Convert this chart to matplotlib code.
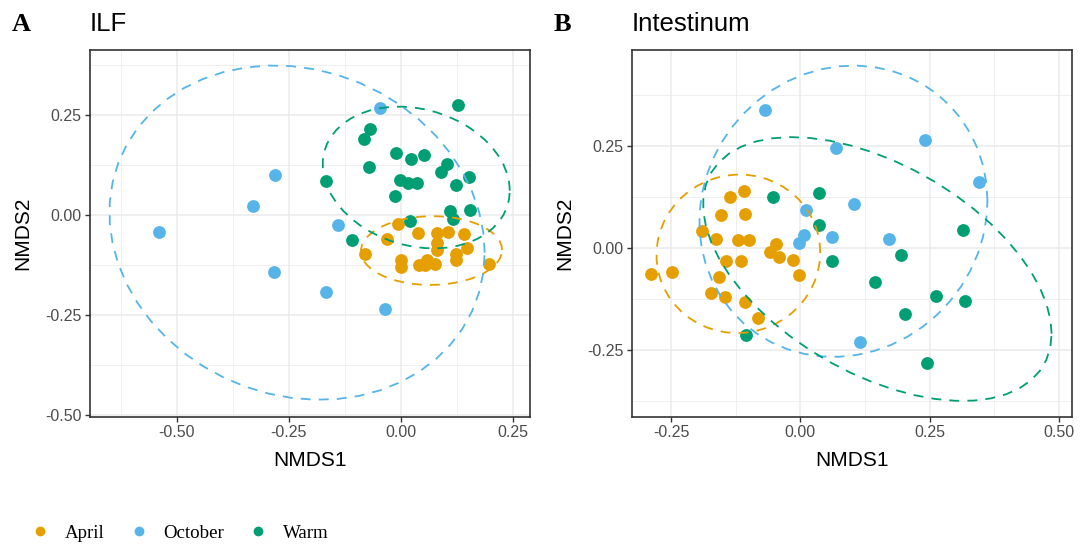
import numpy as np
import matplotlib
matplotlib.use("Agg")
import matplotlib.pyplot as plt
from matplotlib.ticker import MultipleLocator, FormatStrFormatter
from matplotlib.lines import Line2D

# NMDS scores per tissue and season
ilf_april_x = [-0.006, 0.037, 0.080, 0.104, 0.140, -0.031, 0.080, 0.080, 0.146, 0.122,
               -0.081, -0.001, -0.001, 0.122, 0.059, 0.041, 0.053, 0.076, 0.196]
ilf_april_y = [-0.023, -0.044, -0.044, -0.043, -0.048, -0.059, -0.069, -0.087, -0.082, -0.096,
               -0.097, -0.112, -0.129, -0.112, -0.111, -0.125, -0.125, -0.123, -0.121]
ilf_october_x = [-0.047, -0.280, -0.329, -0.540, -0.140, -0.282, -0.167, -0.035]
ilf_october_y = [0.266, 0.100, 0.022, -0.042, -0.024, -0.143, -0.191, -0.235]
ilf_warm_x = [0.128, -0.069, -0.082, -0.011, 0.022, 0.051, -0.071, 0.103, 0.090, 0.152,
              -0.166, -0.003, 0.016, 0.035, 0.123, -0.014, 0.110, 0.154, 0.117, 0.019, -0.109]
ilf_warm_y = [0.275, 0.216, 0.189, 0.154, 0.141, 0.151, 0.121, 0.128, 0.107, 0.096,
              0.084, 0.087, 0.079, 0.081, 0.075, 0.047, 0.010, 0.012, -0.009, -0.016, -0.063]

int_april_x = [-0.288, -0.249, -0.109, -0.136, -0.154, -0.106, -0.190, -0.162, -0.121, -0.099, -0.046,
               -0.059, -0.041, -0.014, -0.144, -0.115, -0.002, -0.157, -0.173, -0.146, -0.107, -0.082]
int_april_y = [-0.063, -0.059, 0.140, 0.125, 0.082, 0.084, 0.041, 0.021, 0.019, 0.020, 0.010,
               -0.011, -0.022, -0.029, -0.032, -0.031, -0.067, -0.071, -0.110, -0.120, -0.133, -0.171]
int_october_x = [-0.068, 0.242, 0.070, 0.346, 0.103, 0.012, 0.008, 0.061, -0.003, 0.171, 0.116]
int_october_y = [0.338, 0.266, 0.246, 0.161, 0.108, 0.092, 0.032, 0.026, 0.011, 0.023, -0.232]
int_warm_x = [-0.053, 0.036, 0.036, 0.061, 0.314, 0.195, 0.144, 0.262, 0.318, 0.203, -0.104, 0.245]
int_warm_y = [0.125, 0.135, 0.057, -0.033, 0.045, -0.017, -0.083, -0.119, -0.130, -0.161, -0.214, -0.283]

seasons = ["April", "October", "Warm"]
colors = {"April": "#E69F00", "October": "#56B4E9", "Warm": "#009E73"}

panels = [
    ("A", "ILF", {"April": (ilf_april_x, ilf_april_y),
                  "October": (ilf_october_x, ilf_october_y),
                  "Warm": (ilf_warm_x, ilf_warm_y)},
     (-0.693, 0.2875), (-0.504, 0.412)),
    ("B", "Intestinum", {"April": (int_april_x, int_april_y),
                         "October": (int_october_x, int_october_y),
                         "Warm": (int_warm_x, int_warm_y)},
     (-0.326, 0.525), (-0.415, 0.486)),
]


def cov_trob(x, nu=5, maxit=25, tol=0.01):
    # multivariate t robust location / scatter (as in MASS::cov.trob)
    n, p = x.shape
    loc = x.mean(axis=0)
    w = np.ones(n)
    for _ in range(maxit):
        w0 = w
        X = x - loc
        _, d, vt = np.linalg.svd(np.sqrt(w / w.sum())[:, None] * X, full_matrices=False)
        wX = X @ vt.T @ np.diag(1 / d)
        Q = (wX ** 2).sum(axis=1)
        w = (nu + p) / (nu + Q)
        loc = (w[:, None] * x).sum(axis=0) / w.sum()
        if np.all(np.abs(w - w0) < tol):
            break
    cov = (np.sqrt(w)[:, None] * X).T @ (np.sqrt(w)[:, None] * X) / n
    return loc, cov


def t_ellipse(xs, ys, level=0.95, segments=51):
    data = np.column_stack([xs, ys])
    dfd = len(xs) - 1
    # F(2, dfd) quantile has a closed form
    qf = dfd / 2 * ((1 - level) ** (-2 / dfd) - 1)
    radius = np.sqrt(2 * qf)
    center, shape = cov_trob(data)
    chol = np.linalg.cholesky(shape).T
    ang = np.arange(segments + 1) * 2 * np.pi / segments
    circle = np.column_stack([np.cos(ang), np.sin(ang)])
    return center + radius * circle @ chol


fig = plt.figure(figsize=(10.81, 5.44), dpi=100)
sans = "Liberation Sans"
serif = "Liberation Serif"
lefts = [90 / 1081, 631.7 / 1081]

for (letter, title, groups, xlim, ylim), left in zip(panels, lefts):
    ax = fig.add_axes([left, 127 / 544, 440 / 1081, 367 / 544])
    for s in seasons:
        gx, gy = groups[s]
        ax.scatter(gx, gy, s=85, color=colors[s], linewidths=0, zorder=3)
    for s in seasons:
        gx, gy = groups[s]
        ell = t_ellipse(gx, gy)
        ax.plot(ell[:, 0], ell[:, 1], color=colors[s], lw=1.3,
                linestyle=(0, (5.5, 4.5)), zorder=4)
    ax.set_xlim(xlim)
    ax.set_ylim(ylim)
    ax.xaxis.set_major_locator(MultipleLocator(0.25))
    ax.yaxis.set_major_locator(MultipleLocator(0.25))
    ax.xaxis.set_minor_locator(MultipleLocator(0.125))
    ax.yaxis.set_minor_locator(MultipleLocator(0.125))
    ax.xaxis.set_major_formatter(FormatStrFormatter("%.2f"))
    ax.yaxis.set_major_formatter(FormatStrFormatter("%.2f"))
    ax.grid(which="major", color="#EBEBEB", lw=1.1, zorder=0)
    ax.grid(which="minor", color="#EBEBEB", lw=0.55, zorder=0)
    ax.set_axisbelow(True)
    ax.tick_params(which="major", length=3.5, width=1.0, color="#333333",
                   labelsize=11.5, labelcolor="#4D4D4D", pad=2.5)
    ax.tick_params(which="minor", length=0)
    for lab in ax.get_xticklabels() + ax.get_yticklabels():
        lab.set_fontfamily(sans)
    for sp in ax.spines.values():
        sp.set_color("#333333")
        sp.set_linewidth(1.2)
    ax.set_xlabel("NMDS1", fontsize=15, family=sans, labelpad=8)
    ax.set_ylabel("NMDS2", fontsize=15, family=sans, labelpad=9.5)
    ax.set_title(title, loc="left", fontsize=18.5, family=sans, pad=14)
    fig.text(left - 78 / 1081, 1 - 31 / 544, letter, fontsize=19, family=serif,
             fontweight="bold", ha="left", va="baseline")

handles = [Line2D([], [], marker="o", linestyle="", markersize=7,
                  markerfacecolor=colors[s], markeredgewidth=0) for s in seasons]
fig.legend(handles, seasons, loc="center left", bbox_to_anchor=(0.013, 0.02),
           ncol=3, frameon=False, prop={"family": serif, "size": 13.6},
           handletextpad=0.8, columnspacing=1.3, handlelength=1.0)

fig.savefig("out.png", dpi=100)
